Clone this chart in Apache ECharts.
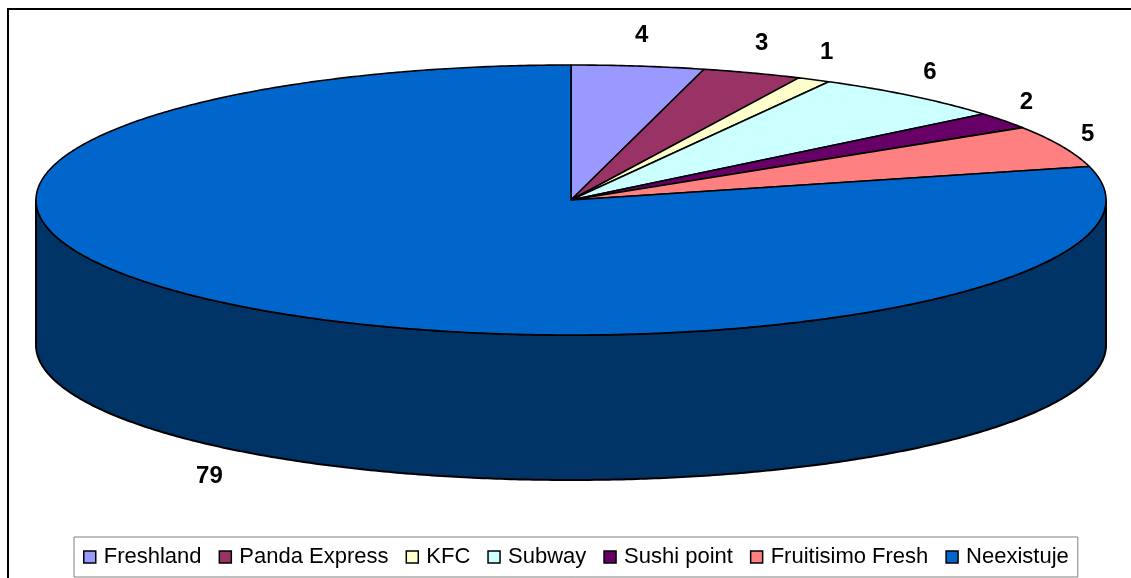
<!DOCTYPE html>
<html>
<head>
<meta charset="utf-8">
<script src="https://cdn.jsdelivr.net/npm/echarts@6/dist/echarts.min.js"></script>
<style>
  html, body { margin: 0; padding: 0; background: #fff; }
  #chart { width: 1131px; height: 578px; }
</style>
</head>
<body>
<div id="chart"></div>
<script>
// Share of answers per fast-food outlet
const categories = ['Freshland', 'Panda Express', 'KFC', 'Subway', 'Sushi point', 'Fruitisimo Fresh', 'Neexistuje'];
const values = [4, 3, 1, 6, 2, 5, 79];

// Palette: top faces and the darker outer walls
const topColors = ['#9999FF', '#993366', '#FFFFCC', '#CCFFFF', '#660066', '#FF8080', '#0066CC'];
const sideColors = ['#4D4D80', '#4D1A33', '#808066', '#668080', '#330033', '#804040', '#003366'];

// Tilted disc geometry
const disc = { cx: 571, cy: 200, rx: 535, ry: 135, depth: 145 };
const labelRing = { rx: 563, ry: 166, frontRx: 590 };

const total = values.reduce((a, b) => a + b, 0);
const starts = [];
values.reduce((acc, v, i) => { starts[i] = acc; return acc + v; }, 0);

const DEG = Math.PI / 180;
function rim(theta, dy) {
  // theta measured clockwise from 12 o'clock
  return [disc.cx + disc.rx * Math.sin(theta), disc.cy - disc.ry * Math.cos(theta) + (dy || 0)];
}
function arc(a0, a1, dy) {
  const pts = [];
  const steps = Math.max(2, Math.ceil((a1 - a0) / (0.5 * DEG)));
  for (let k = 0; k <= steps; k++) pts.push(rim(a0 + (a1 - a0) * k / steps, dy));
  return pts;
}

function renderSlice(params, api) {
  const i = params.seriesIndex;
  const v = api.value(0);
  const a0 = starts[i] / total * 2 * Math.PI;
  const a1 = a0 + v / total * 2 * Math.PI;
  const children = [];

  // outer wall: only the front half (90°..270°) faces the viewer
  const f0 = Math.max(a0, Math.PI / 2);
  const f1 = Math.min(a1, 3 * Math.PI / 2);
  if (f1 > f0) {
    const topEdge = arc(f0, f1, 0);
    const bottomEdge = arc(f0, f1, disc.depth).reverse();
    children.push({
      type: 'polygon',
      shape: { points: topEdge.concat(bottomEdge) },
      style: { fill: sideColors[i], stroke: '#000', lineWidth: 2, lineJoin: 'round' }
    });
  }

  // top face
  const face = [[disc.cx, disc.cy]].concat(arc(a0, a1, 0));
  children.push({
    type: 'polygon',
    shape: { points: face },
    style: { fill: topColors[i], stroke: '#000', lineWidth: 1.6, lineJoin: 'round' }
  });

  // value label outside the rim
  const m = (a0 + a1) / 2;
  const front = Math.cos(m) < 0;
  children.push({
    type: 'text',
    z2: 10,
    style: {
      text: String(v),
      x: disc.cx + (front ? labelRing.frontRx : labelRing.rx) * Math.sin(m),
      y: disc.cy - labelRing.ry * Math.cos(m) + (front ? disc.depth : 0),
      align: 'center',
      verticalAlign: 'middle',
      font: 'bold 24px "Liberation Sans", Arial, sans-serif',
      fill: '#000'
    }
  });

  return { type: 'group', children: children };
}

const chart = echarts.init(document.getElementById('chart'), null, { renderer: 'canvas' });

chart.setOption({
  animation: false,
  backgroundColor: '#fff',
  graphic: [{
    type: 'rect',
    silent: true,
    shape: { x: 8, y: 9, width: 1140, height: 600 },
    style: { fill: 'none', stroke: '#000', lineWidth: 2 },
    z: -10
  }],
  legend: {
    left: 74,
    top: 537,
    orient: 'horizontal',
    icon: 'rect',
    itemWidth: 12,
    itemHeight: 12,
    itemGap: 17,
    padding: [9, 9, 9, 9],
    borderColor: '#808080',
    borderWidth: 1,
    backgroundColor: '#fff',
    itemStyle: { borderColor: '#000', borderWidth: 1.5 },
    textStyle: {
      fontFamily: '"Liberation Sans", Arial, sans-serif',
      fontSize: 22,
      color: '#000',
      padding: [0, 0, 0, 3]
    },
    data: categories.map((name, i) => ({ name: name, itemStyle: { color: topColors[i] } }))
  },
  series: categories.map((name, i) => ({
    type: 'custom',
    name: name,
    coordinateSystem: 'none',
    itemStyle: { color: topColors[i] },
    renderItem: renderSlice,
    data: [[values[i]]]
  }))
});
</script>
</body>
</html>
